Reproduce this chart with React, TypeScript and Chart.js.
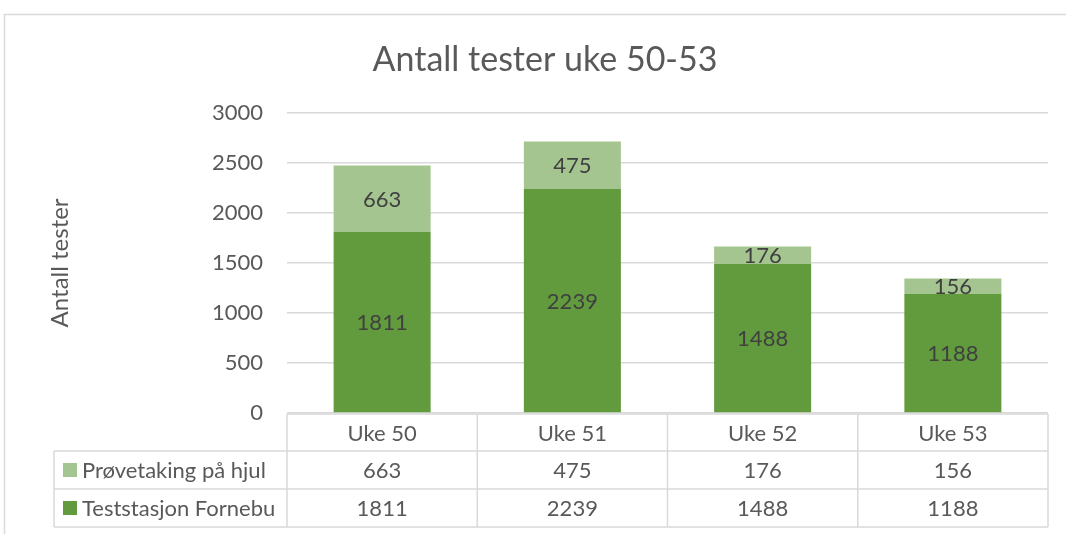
import React, { useEffect, useRef } from 'react';
import { Chart, registerables } from 'chart.js';
Chart.register(...registerables);

const categories = ['Uke 50', 'Uke 51', 'Uke 52', 'Uke 53'];
const fornebuName = 'Teststasjon Fornebu';
const hjulName = 'Prøvetaking på hjul';
const fornebu = [1811, 2239, 1488, 1188];
const hjul = [663, 475, 176, 156];
const titleText = 'Antall tester uke 50-53';
const yTitle = 'Antall tester';

const DARK = '#629b3e';
const LIGHT = '#a4c58f';
const TEXT = '#595959';
const LINE = '#d9d9d9';
const FONT = 'Lato, "Open Sans", sans-serif';
const FS = 22;
const PAD_LEFT = 42;

const framePlugin = {
  id: 'frame',
  beforeDraw(chart: any) {
    const ctx = chart.ctx;
    ctx.save();
    ctx.strokeStyle = LINE;
    ctx.lineWidth = 1.5;
    ctx.beginPath();
    ctx.moveTo(4.5, chart.height);
    ctx.lineTo(4.5, 14.5);
    ctx.lineTo(chart.width, 14.5);
    ctx.stroke();
    ctx.restore();
  },
};

const labelPlugin = {
  id: 'barLabels',
  afterDatasetsDraw(chart: any) {
    const ctx = chart.ctx;
    ctx.save();
    ctx.font = `${FS}px ${FONT}`;
    ctx.fillStyle = '#404040';
    ctx.textAlign = 'center';
    ctx.textBaseline = 'middle';
    chart.data.datasets.forEach((ds: any, di: number) => {
      const meta = chart.getDatasetMeta(di);
      meta.data.forEach((el: any, i: number) => {
        const y = (el.y + el.base) / 2;
        ctx.fillText(String(ds.data[i]), el.x, y + 1);
      });
    });
    ctx.restore();
  },
};

const tablePlugin = {
  id: 'dataTable',
  afterDraw(chart: any) {
    const ctx = chart.ctx;
    const xs = chart.scales.x;
    const area = chart.chartArea;
    const n = categories.length;
    const cw = xs.getPixelForValue(1) - xs.getPixelForValue(0);
    const left = area.left;
    const right = left + cw * n;
    const legendLeft = 54;
    const y0 = area.bottom + 1;
    const y1 = y0 + 37;
    const y2 = y1 + 38;
    const y3 = y2 + 38;
    ctx.save();
    ctx.strokeStyle = LINE;
    ctx.lineWidth = 1.5;
    ctx.beginPath();
    ctx.moveTo(left, y0); ctx.lineTo(right, y0);
    [y1, y2, y3].forEach((y) => { ctx.moveTo(legendLeft, y); ctx.lineTo(right, y); });
    ctx.moveTo(legendLeft, y1); ctx.lineTo(legendLeft, y3);
    for (let i = 0; i <= n; i++) {
      const x = left + cw * i;
      ctx.moveTo(x, y0); ctx.lineTo(x, y3);
    }
    ctx.stroke();

    ctx.font = `${FS}px ${FONT}`;
    ctx.fillStyle = TEXT;
    ctx.textBaseline = 'middle';
    ctx.textAlign = 'center';
    categories.forEach((c, i) => {
      const x = xs.getPixelForValue(i);
      ctx.fillText(c, x, (y0 + y1) / 2 + 1);
      ctx.fillText(String(hjul[i]), x, (y1 + y2) / 2 + 1);
      ctx.fillText(String(fornebu[i]), x, (y2 + y3) / 2 + 1);
    });
    ctx.textAlign = 'left';
    const rows: [string, string, number, number][] = [
      [hjulName, LIGHT, y1, y2],
      [fornebuName, DARK, y2, y3],
    ];
    rows.forEach(([name, color, a, b]) => {
      const mid = (a + b) / 2;
      ctx.fillStyle = color;
      ctx.fillRect(63, mid - 7, 14, 14);
      ctx.fillStyle = TEXT;
      ctx.fillText(name, 82, mid + 1);
    });
    ctx.restore();
  },
};

export default function App() {
  const ref = useRef<HTMLCanvasElement>(null);
  useEffect(() => {
    document.body.style.margin = '0';
    const chart = new Chart(ref.current!, {
      type: 'bar',
      data: {
        labels: categories,
        datasets: [
          { label: fornebuName, data: fornebu, backgroundColor: DARK, categoryPercentage: 1, barPercentage: 0.51 },
          { label: hjulName, data: hjul, backgroundColor: LIGHT, categoryPercentage: 1, barPercentage: 0.51 },
        ],
      },
      options: {
        animation: false,
        responsive: false,
        layout: { padding: { left: PAD_LEFT, right: 18, top: 0, bottom: 121 } },
        plugins: {
          legend: { display: false },
          tooltip: { enabled: false },
          title: {
            display: true,
            text: titleText,
            color: TEXT,
            font: { family: FONT, size: 34, weight: 'normal' },
            padding: { top: 40, bottom: 32 },
          },
        },
        scales: {
          x: { stacked: true, display: false },
          y: {
            stacked: true,
            min: 0,
            max: 3000,
            ticks: {
              stepSize: 500,
              color: TEXT,
              padding: 24,
              font: { family: FONT, size: FS },
              callback: (v: any) => String(v),
            },
            grid: { color: LINE, lineWidth: 1.5, drawTicks: false },
            border: { display: false },
            title: {
              display: true,
              text: yTitle,
              color: TEXT,
              font: { family: FONT, size: 24 },
              padding: { top: 4, bottom: 0 },
            },
            afterFit(scale: any) { scale.width = 287 - PAD_LEFT; },
          },
        },
      },
      plugins: [framePlugin, labelPlugin, tablePlugin],
    });
    return () => chart.destroy();
  }, []);
  return <canvas ref={ref} width={1066} height={534} style={{ display: 'block' }} />;
}
